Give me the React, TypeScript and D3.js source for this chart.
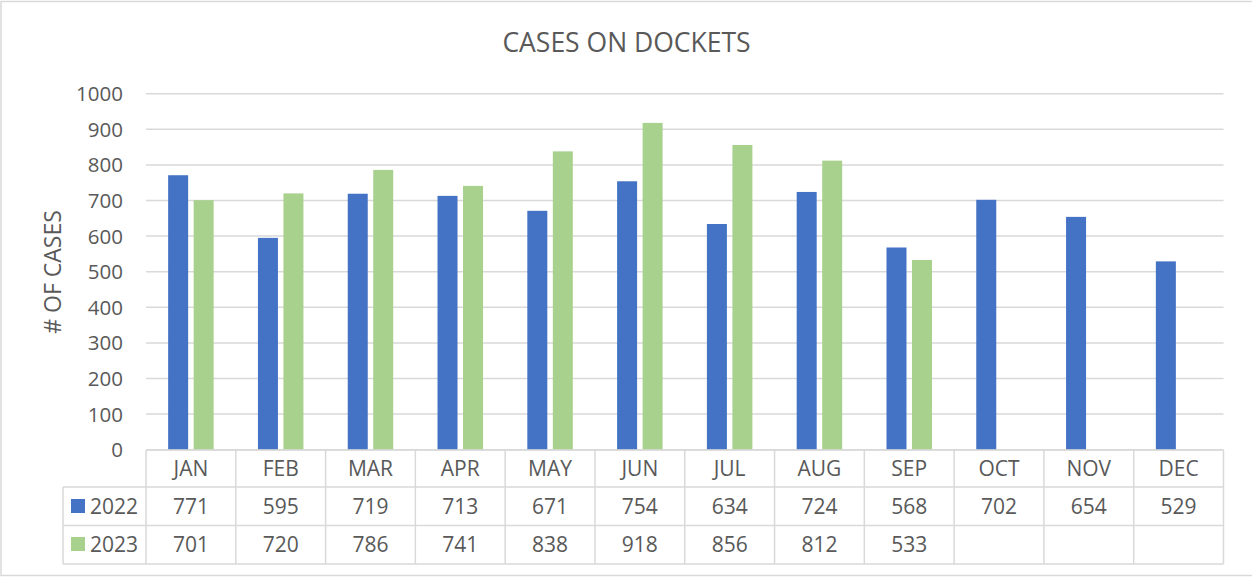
import * as d3 from 'd3';
import React from 'react';

// chart data
const months = ['JAN', 'FEB', 'MAR', 'APR', 'MAY', 'JUN', 'JUL', 'AUG', 'SEP', 'OCT', 'NOV', 'DEC'];
const cases2022 = [771, 595, 719, 713, 671, 754, 634, 724, 568, 702, 654, 529];
const cases2023: (number | null)[] = [701, 720, 786, 741, 838, 918, 856, 812, 533, null, null, null];
const yTicks = [0, 100, 200, 300, 400, 500, 600, 700, 800, 900, 1000];

const series = [
  { name: '2022', color: '#4472c4', values: cases2022 },
  { name: '2023', color: '#a9d18e', values: cases2023 },
];

const W = 1252, H = 577;
const font = '"Open Sans", "Noto Sans", sans-serif';
const textColor = '#595959';
const gridColor = '#d9d9d9';

export default function App() {
  const left = 146, right = 1223.5, top = 93.7, bottom = 449.7;
  const rowH = [450, 487, 525.5, 564];
  const legendLeft = 63;

  const x = d3.scaleBand<string>().domain(months).range([left, right]);
  const y = d3.scaleLinear().domain([0, 1000]).range([bottom, top]);
  const barW = 20, gap = 5.5;
  const groupW = barW * 2 + gap;

  return (
    <svg width={W} height={H} style={{ position: 'absolute', left: 0, top: 0 }} fontFamily={font}>
      <rect x={0} y={0} width={W} height={H} fill="#fff" />
      <rect x={1} y={1.5} width={W + 10} height={574} fill="none" stroke={gridColor} strokeWidth={1.5} />

      <text x={626.5} y={52} textAnchor="middle" fontSize={26.5} fill={textColor}>CASES ON DOCKETS</text>

      {/* gridlines and y ticks */}
      {yTicks.map(t => (
        <g key={t}>
          <line x1={left} x2={right} y1={y(t)} y2={y(t)} stroke={gridColor} strokeWidth={1.5} />
          <text x={123} y={y(t) + 7.5} textAnchor="end" fontSize={20.5} fill={textColor}>{t}</text>
        </g>
      ))}
      <text transform={`translate(61,272) rotate(-90)`} textAnchor="middle" fontSize={23} fill={textColor}># OF CASES</text>

      {/* bars */}
      {series.map((s, si) => (
        <g key={s.name} fill={s.color}>
          {s.values.map((v, i) => v == null ? null : (
            <rect key={i}
              x={(x(months[i]) as number) + (x.bandwidth() - groupW) / 2 + si * (barW + gap)}
              y={y(v)} width={barW} height={y(0) - y(v)} />
          ))}
        </g>
      ))}

      {/* data table */}
      <g stroke={gridColor} strokeWidth={1.5}>
        {rowH.map((ry, i) => (
          <line key={i} x1={i === 0 ? left : legendLeft} x2={right} y1={ry} y2={ry} />
        ))}
        <line x1={legendLeft} x2={legendLeft} y1={rowH[1]} y2={rowH[3]} />
        {months.map(m => (
          <line key={m} x1={x(m)} x2={x(m)} y1={rowH[0]} y2={rowH[3]} />
        ))}
        <line x1={right} x2={right} y1={rowH[0]} y2={rowH[3]} />
      </g>
      {months.map(m => (
        <text key={m} x={(x(m) as number) + x.bandwidth() / 2} y={475.5} textAnchor="middle" fontSize={21} fill={textColor}>{m}</text>
      ))}
      {series.map((s, si) => {
        const base = si === 0 ? 513.5 : 551.5;
        return (
          <g key={s.name}>
            <rect x={71} y={base - 14.5} width={14} height={14} fill={s.color} />
            <text x={90} y={base} fontSize={21} fill={textColor}>{s.name}</text>
            {s.values.map((v, i) => v == null ? null : (
              <text key={i} x={(x(months[i]) as number) + x.bandwidth() / 2} y={base} textAnchor="middle" fontSize={21} fill={textColor}>{v}</text>
            ))}
          </g>
        );
      })}
    </svg>
  );
}
